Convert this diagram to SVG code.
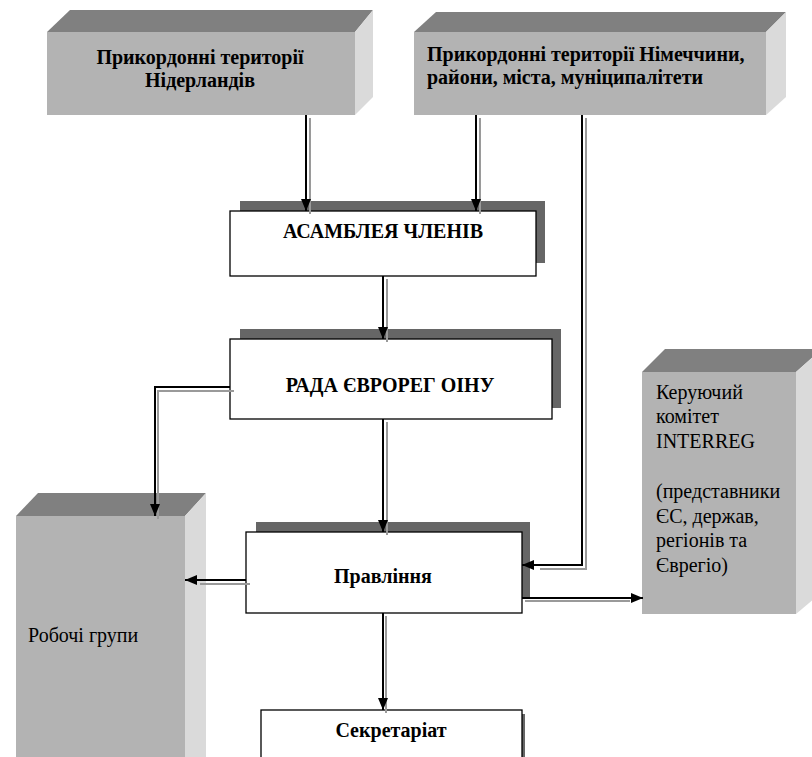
<svg xmlns="http://www.w3.org/2000/svg" width="812" height="757" viewBox="0 0 812 757">
<style>
.front{fill:#b3b3b3}
.top{fill:#808080}
.side{fill:#dadada}
.wbox{fill:#fff;stroke:#000;stroke-width:1.3}
.shadow{fill:#666}
.t{font-family:"Liberation Serif","Times New Roman",serif;font-size:20px;fill:#000}
.b{font-weight:bold}
.ln{fill:none;stroke:#000;stroke-width:2}
.sh{fill:none;stroke:#9a9a9a;stroke-width:2}
</style>
<defs>
<marker id="ab" markerWidth="12" markerHeight="10" refX="12" refY="5" orient="auto" markerUnits="userSpaceOnUse"><path d="M0,0 L12,5 L0,10 z" fill="#000"/></marker>
<marker id="ag" markerWidth="12" markerHeight="10" refX="12" refY="5" orient="auto" markerUnits="userSpaceOnUse"><path d="M0,0 L12,5 L0,10 z" fill="#9a9a9a"/></marker>
</defs>
<rect width="812" height="757" fill="#fff"/>

<g id="node-nl">
<polygon class="top" points="47,32 70,10 373,10 355,32"/>
<polygon class="side" points="355,32 373,10 373,97 355,115"/>
<rect class="front" x="47" y="32" width="308" height="83"/>
<text class="t b" x="200" y="64" text-anchor="middle">Прикордонні території</text>
<text class="t b" x="200" y="87" text-anchor="middle">Нідерландів</text>
</g>

<g id="node-de">
<polygon class="top" points="414,32 436,12 786,12 766,32"/>
<polygon class="side" points="766,32 786,12 786,97 766,115"/>
<rect class="front" x="414" y="32" width="352" height="83"/>
<text class="t b" x="427" y="61">Прикордонні території Німеччини,</text>
<text class="t b" x="427" y="84">райони, міста, муніципалітети</text>
</g>

<g id="node-assembly">
<rect class="shadow" x="240" y="201" width="305" height="62"/>
<rect class="wbox" x="230" y="211" width="306" height="65"/>
<text class="t b" x="383" y="238" text-anchor="middle">АСАМБЛЕЯ ЧЛЕНІВ</text>
</g>

<g id="node-council">
<rect class="shadow" x="240" y="329" width="321" height="79"/>
<rect class="wbox" x="230" y="339" width="322" height="80"/>
<text class="t b" x="390" y="392" text-anchor="middle">РАДА ЄВРОРЕГ ОІНУ</text>
</g>

<g id="node-board">
<rect class="shadow" x="256" y="522" width="274" height="75"/>
<rect class="wbox" x="246" y="532" width="276" height="81"/>
<text class="t b" x="383" y="583" text-anchor="middle">Правління</text>
</g>

<g id="node-secretariat">
<rect class="shadow" x="264" y="714" width="261" height="50"/>
<rect class="wbox" x="261" y="710" width="261" height="55"/>
<text class="t b" x="391" y="737" text-anchor="middle">Секретаріат</text>
</g>

<g id="node-workgroups">
<polygon class="top" points="16,516 38,493 206,493 185,516"/>
<polygon class="side" points="185,516 206,493 206,757 185,757"/>
<rect class="front" x="16" y="516" width="169" height="245"/>
<text class="t" x="28" y="642">Робочі групи</text>
</g>

<g id="node-interreg">
<polygon class="top" points="642,372 665,349 822,349 796,372"/>
<polygon class="side" points="796,372 822,349 822,592 796,614"/>
<rect class="front" x="642" y="372" width="154" height="242"/>
<text class="t" x="656" y="399">Керуючий</text>
<text class="t" x="656" y="423">комітет</text>
<text class="t" x="656" y="448">INTERREG</text>
<text class="t" x="656" y="498">(представники</text>
<text class="t" x="656" y="523">ЄС, держав,</text>
<text class="t" x="656" y="547">регіонів та</text>
<text class="t" x="656" y="572">Єврегіо)</text>
</g>

<g id="connectors">
<!-- shadows -->
<path class="sh" d="M310,118 V214"/>
<path class="sh" d="M480,118 V214"/>
<path class="sh" d="M586,118 V569 H540"/>
<path class="sh" d="M387,279 V342"/>
<path class="sh" d="M387,422 V535"/>
<path class="sh" d="M234,391 H158 V519"/>
<path class="sh" d="M250,584 H200"/>
<path class="sh" d="M525,601 H630" stroke-width="3"/>
<path class="sh" d="M386,616 V713"/>
<!-- lines -->
<path class="ln" d="M306,115 V211" marker-end="url(#ab)"/>
<path class="ln" d="M476,115 V211" marker-end="url(#ab)"/>
<path class="ln" d="M582,115 V565 H522" marker-end="url(#ab)"/>
<path class="ln" d="M383,276 V339" marker-end="url(#ab)"/>
<path class="ln" d="M383,419 V532" marker-end="url(#ab)"/>
<path class="ln" d="M230,387 H155"/>
<path class="ln" d="M155,386 V516" stroke-width="3.5" marker-end="url(#ab)"/>
<path class="ln" d="M246,580 H185" marker-end="url(#ab)"/>
<path class="ln" d="M522,598 H643" stroke-width="3" marker-end="url(#ab)"/>
<path class="ln" d="M383,613 V710" marker-end="url(#ab)"/>
</g>
</svg>
